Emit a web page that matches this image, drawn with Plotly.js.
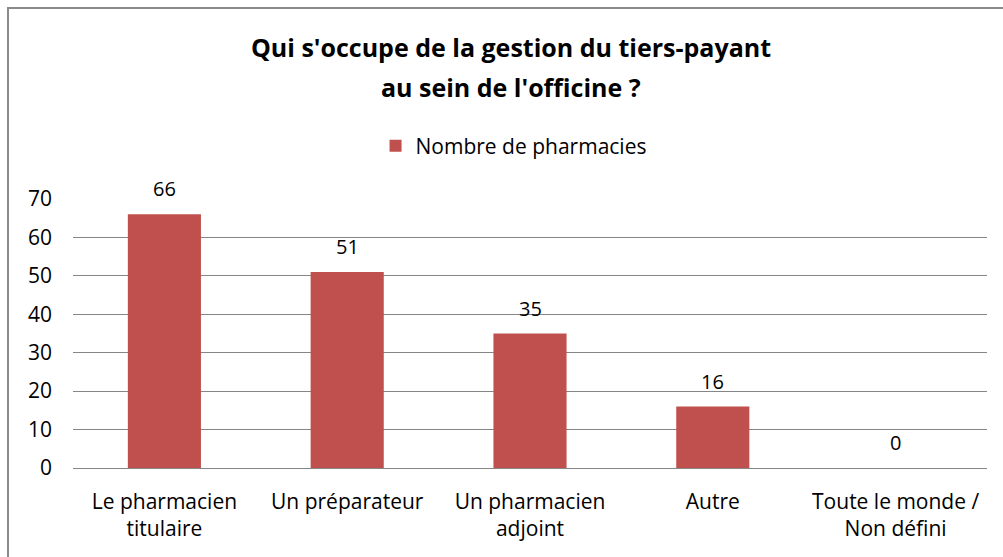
<!DOCTYPE html>
<html><head><meta charset="utf-8">
<script src="https://cdn.plot.ly/plotly-3.0.1.min.js"></script>
<style>html,body{margin:0;padding:0;background:#fff}
#wrap{position:relative;width:1003px;height:557px}
#chart{width:1003px;height:557px}
#frame{position:absolute;left:7px;top:7px;right:-4px;bottom:-4px;border-top:2px solid #8a8a8a;border-left:2px solid #8a8a8a;pointer-events:none}
</style>
</head><body><div id="wrap"><div id="chart"></div><div id="frame"></div></div>
<script>
const categories = ["Le pharmacien<br>titulaire","Un préparateur","Un pharmacien<br>adjoint","Autre","Toute le monde /<br>Non défini"];
const values = [66, 51, 35, 16, 0];
const seriesName = "Nombre de pharmacies";
const yTicks = [0,10,20,30,40,50,60,70];
const titleLines = ["Qui s'occupe de la gestion du tiers-payant", "au sein de l'officine ?"];

const W = 1003, H = 557, L = 73, R = 16, T = 199, B = 89;
const pw = W - L - R, ph = H - T - B;
const px = x => (x - L) / pw;
const py = y => (H - B - y) / ph;

const font = "'Open Sans', sans-serif";
const dataLabels = values.map((v, i) => ({
  x: categories[i], y: v, xref: 'x', yref: 'y', text: String(v), showarrow: false,
  yanchor: 'bottom', yshift: 10, font: {size: 20, family: font, color: '#000'}
}));
Plotly.newPlot('chart', [{
  type: 'bar', x: categories, y: values, name: seriesName,
  marker: {color: '#C0504D'},
  showlegend: true, hoverinfo: 'skip'
}], {
  width: W, height: H,
  margin: {l: L, r: R, t: T, b: B},
  paper_bgcolor: 'rgba(0,0,0,0)', plot_bgcolor: '#fff',
  bargap: 0.6,
  font: {family: font, color: '#000', size: 20},
  title: {text: "<b>" + titleLines[0] + "</b>",
    x: 511 / W, xanchor: 'center', y: 1 - 48/H, yanchor: 'middle',
    font: {size: 25, family: font, color: '#000'}},
  showlegend: true,
  legend: {orientation: 'h', x: 0.482, xanchor: 'center', y: py(146), yanchor: 'middle',
    font: {size: 21, family: font}, bgcolor: 'rgba(0,0,0,0)'},
  xaxis: {showgrid: false, showline: false, ticks: '', ticklabelstandoff: 19,
    tickfont: {size: 21, family: font}, fixedrange: true},
  yaxis: {range: [0, 70], tickvals: yTicks, showgrid: true, gridcolor: '#868686', gridwidth: 1,
    zeroline: true, zerolinecolor: '#868686', zerolinewidth: 1, showline: false, ticks: '',
    ticklabelstandoff: 20, tickfont: {size: 21, family: font}, fixedrange: true},
  annotations: [{
    xref: 'paper', yref: 'paper', x: px(511), y: py(87), xanchor: 'center', yanchor: 'middle',
    text: "<b>" + titleLines[1] + "</b>", showarrow: false,
    font: {size: 25, family: font, color: '#000'}
  }].concat(dataLabels)
}, {displayModeBar: false, staticPlot: true});
</script></body></html>
